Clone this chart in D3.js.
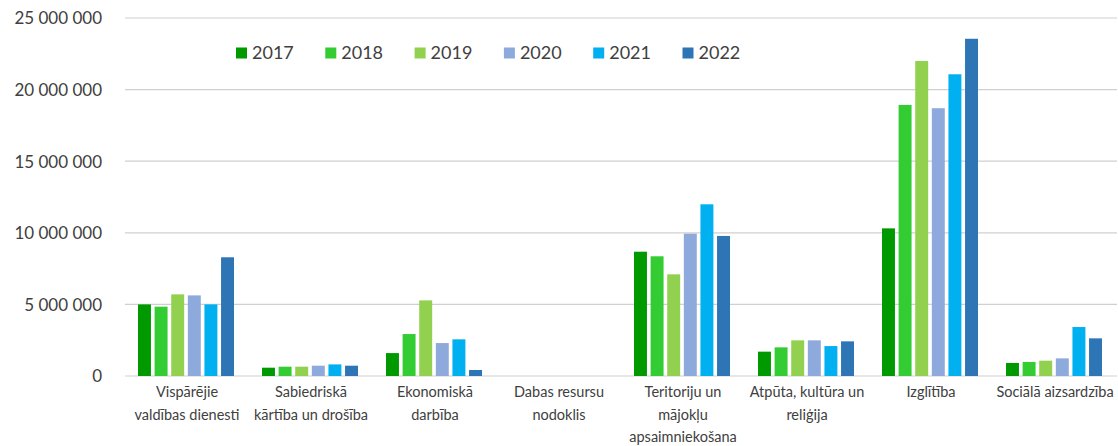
<!DOCTYPE html>
<html>
<head>
<meta charset="utf-8">
<script src="https://cdn.jsdelivr.net/npm/d3@7"></script>
<style>
  html, body { margin: 0; padding: 0; background: #fff; }
  svg { display: block; font-family: Lato, "Open Sans", sans-serif; }
</style>
</head>
<body>
<svg id="chart" width="1118" height="446"></svg>
<script>
const categories = [
  "Vispārējie\nvaldības dienesti",
  "Sabiedriskā\nkārtība un drošība",
  "Ekonomiskā\ndarbība",
  "Dabas resursu\nnodoklis",
  "Teritoriju un\nmājokļu\napsaimniekošana",
  "Atpūta, kultūra un\nreliģija",
  "Izglītība",
  "Sociālā aizsardzība"
];
const years = ["2017", "2018", "2019", "2020", "2021", "2022"];
const colors = ["#009A00", "#33CC33", "#92D050", "#8EA9DB", "#00B0F0", "#2E75B6"];

const v2017 = [5000000, 580000, 1600000, 0, 8680000, 1700000, 10310000, 910000];
const v2018 = [4840000, 650000, 2930000, 0, 8360000, 2000000, 18930000, 980000];
const v2019 = [5700000, 650000, 5280000, 0, 7100000, 2490000, 22000000, 1070000];
const v2020 = [5630000, 720000, 2300000, 0, 9940000, 2490000, 18700000, 1230000];
const v2021 = [5000000, 810000, 2560000, 0, 11990000, 2090000, 21070000, 3420000];
const v2022 = [8290000, 720000, 420000, 0, 9780000, 2420000, 23550000, 2630000];
const seriesValues = [v2017, v2018, v2019, v2020, v2021, v2022];

const yTicks = [0, 5000000, 10000000, 15000000, 20000000, 25000000];

(function () {
const svg = d3.select("#chart");
const pLeft = 125, pRight = 1117, pTop = 18, pBottom = 376;

const x0 = d3.scaleBand().domain(d3.range(categories.length)).range([pLeft, pRight]).padding(0);
const x1 = d3.scaleBand().domain(years).range([13, 109]).paddingInner(0.22).paddingOuter(0);
const y = d3.scaleLinear().domain([0, 25000000]).range([pBottom, pTop]);

const fmt = d3.formatLocale({decimal: ",", thousands: " ", grouping: [3], currency: ["", ""]}).format(",");

// gridlines
svg.append("g").selectAll("line").data(yTicks).join("line")
  .attr("x1", pLeft).attr("x2", pRight)
  .attr("y1", d => y(d)).attr("y2", d => y(d))
  .attr("stroke", "#d0d0d0").attr("stroke-width", 1.2);

// y axis labels
const yAxis = d3.axisLeft(y).tickValues(yTicks).tickSize(0).tickPadding(0)
  .tickFormat(d => fmt(d));
const gy = svg.append("g").attr("transform", "translate(102,0)").call(yAxis);
gy.select(".domain").remove();
gy.selectAll("text").attr("font-size", 17).attr("fill", "#404040")
  .attr("font-family", "Lato, 'Open Sans', sans-serif").attr("dy", "0.35em");

// bars
const groups = svg.append("g").selectAll("g").data(categories.map((c, i) => i)).join("g")
  .attr("transform", i => `translate(${x0(i)},0)`);
groups.selectAll("rect")
  .data(i => years.map((yr, k) => ({yr, k, v: seriesValues[k][i]})))
  .join("rect")
  .attr("x", d => x1(d.yr))
  .attr("width", x1.bandwidth())
  .attr("y", d => y(d.v))
  .attr("height", d => y(0) - y(d.v))
  .attr("fill", d => colors[d.k]);

// category labels
const xl = svg.append("g");
categories.forEach((c, i) => {
  const lines = c.split("\n");
  const cx = x0(i) + x0.bandwidth() / 2;
  const t = xl.append("text")
    .attr("x", cx)
    .attr("y", 397)
    .attr("text-anchor", "middle")
    .attr("font-size", 14.5)
    .attr("fill", "#404040");
  lines.forEach((ln, j) => {
    t.append("tspan").attr("x", cx).attr("dy", j === 0 ? 0 : 22.5).text(ln);
  });
});

// legend
const legend = svg.append("g").attr("transform", "translate(236,53)");
years.forEach((yr, k) => {
  const g = legend.append("g").attr("transform", `translate(${k * 89.3},0)`);
  g.append("rect").attr("x", 0).attr("y", -5.5).attr("width", 11).attr("height", 11).attr("fill", colors[k]);
  g.append("text").attr("x", 16).attr("y", 0).attr("dy", "0.36em")
    .attr("font-size", 18).attr("fill", "#404040").text(yr);
});
})();
</script>
</body>
</html>
